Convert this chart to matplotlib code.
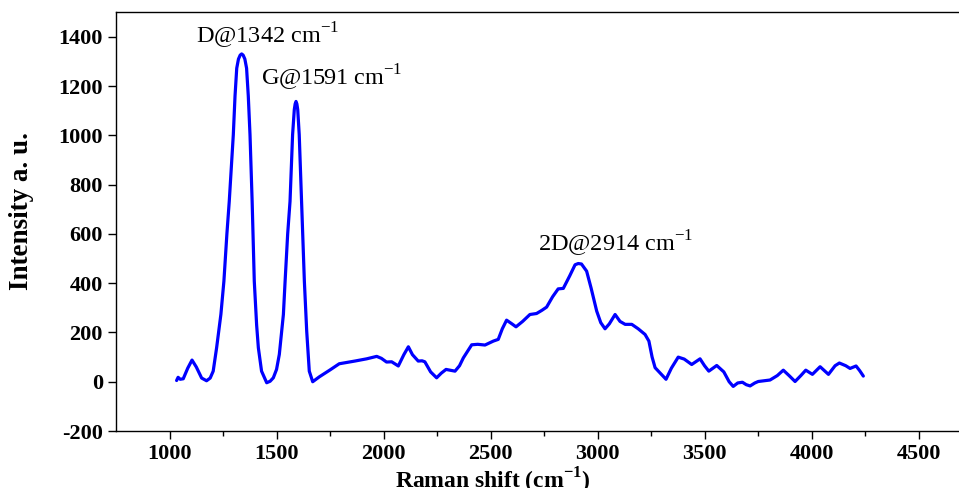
import numpy as np
import matplotlib
matplotlib.use("Agg")
import matplotlib.pyplot as plt

plt.rcParams['font.family'] = ['Liberation Serif', 'DejaVu Serif']
plt.rcParams['mathtext.fontset'] = 'custom'
plt.rcParams['mathtext.rm'] = 'Liberation Serif'
plt.rcParams['mathtext.bf'] = 'Liberation Serif:bold'
plt.rcParams['axes.unicode_minus'] = False

# raman spectrum
shift = [1033, 1040, 1050, 1064, 1085, 1105, 1125, 1150, 1173, 1190, 1204, 1220,
         1240, 1254, 1268, 1279, 1298, 1306, 1314, 1322, 1330, 1337, 1344, 1352,
         1360, 1368, 1376, 1386,
         1396, 1407, 1415, 1430, 1454, 1470, 1485, 1500, 1513, 1532, 1540, 1552,
         1563, 1575, 1583, 1587, 1591, 1595, 1599, 1606, 1617, 1630, 1641, 1653,
         1669, 1700,
         1750, 1793, 1866, 1921, 1968, 1990, 2014, 2038, 2069, 2095, 2116, 2135,
         2162, 2180, 2193, 2220, 2248, 2270, 2292, 2334, 2355, 2373, 2412, 2440,
         2474, 2513, 2536, 2555, 2575, 2600, 2619, 2650, 2684, 2715, 2740, 2762,
         2790, 2816, 2840, 2870, 2895, 2910, 2925, 2949, 2970, 2996, 3015, 3035,
         3055, 3082, 3105, 3129, 3160, 3190, 3222, 3240, 3255, 3269, 3284, 3320,
         3345, 3377, 3405, 3440, 3479, 3500, 3520, 3557, 3590, 3615, 3634, 3655,
         3677, 3695, 3713, 3735, 3751, 3806, 3840, 3868, 3895, 3923, 3950, 3973,
         4004, 4040, 4079, 4110, 4130, 4160, 4180, 4208, 4225, 4242]
intensity = [5, 18, 10, 12, 55, 88, 60, 15, 4, 15, 43, 138,
             274, 408, 600, 732, 1003, 1160, 1273, 1310, 1326, 1331, 1326, 1310,
             1273, 1160, 1003, 732,
             408, 230, 138, 43, -4, 2, 16, 50, 111, 273, 408, 600,
             732, 1003, 1105, 1128, 1138, 1128, 1105, 1003, 732, 408, 205, 43,
             0, 20,
             48, 73, 84, 93, 103, 95, 80, 81, 64, 110, 142, 110,
             84, 85, 81, 40, 16, 35, 50, 43, 65, 97, 150, 152,
             149, 165, 172, 215, 250, 235, 223, 245, 273, 277, 290, 303,
             345, 377, 379, 430, 475, 480, 478, 449, 380, 287, 240, 215,
             235, 273, 245, 233, 233, 215, 192, 165, 100, 57, 43, 10,
             55, 100, 92, 70, 93, 65, 43, 66, 40, 0, -19, -5,
             -2, -12, -17, -5, 1, 7, 25, 47, 25, 1, 25, 47,
             30, 61, 30, 65, 76, 65, 54, 64, 45, 23]

peak_names = ['D', 'G', '2D']
peak_pos = [1342, 1591, 2914]
label_x = [1460, 1757, 3085]
label_y = [1374, 1201, 530]

fig = plt.figure(figsize=(9.59, 4.88), dpi=100)
ax = fig.add_axes([0.121, 0.1168, 0.8926, 0.858])

ax.plot(shift, intensity, color='#0000ff', lw=2.3, solid_joinstyle='round',
        solid_capstyle='round')

for name, p, lx, ly in zip(peak_names, peak_pos, label_x, label_y):
    ax.text(lx, ly, name + '@' + str(p) + ' cm$^{-1}$', fontsize=17.5,
            ha='center', va='baseline')

ax.set_xlim(750, 4750)
ax.set_ylim(-200, 1500)
ax.set_xticks([1000, 1500, 2000, 2500, 3000, 3500, 4000, 4500])
ax.set_xticks([1250, 1750, 2250, 2750, 3250, 3750, 4250], minor=True)
ax.set_yticks(np.arange(-200, 1401, 200))

ax.spines['right'].set_visible(False)
for s in ax.spines.values():
    s.set_linewidth(1.0)
ax.tick_params(axis='both', which='major', direction='out', length=6, width=1.0,
               labelsize=16)
ax.tick_params(axis='x', which='minor', direction='out', length=3.5, width=1.0)
for lbl in ax.get_xticklabels() + ax.get_yticklabels():
    lbl.set_fontweight('bold')

ax.set_xlabel('Raman shift (cm$^{\\mathbf{-1}}$)', fontsize=17, fontweight='bold')
ax.xaxis.set_label_coords(0.44, -0.083)
ax.set_ylabel('Intensity a. u.', fontsize=19.5, fontweight='bold')
ax.yaxis.set_label_coords(-0.096, 0.525)

fig.savefig('out.png', dpi=100)
